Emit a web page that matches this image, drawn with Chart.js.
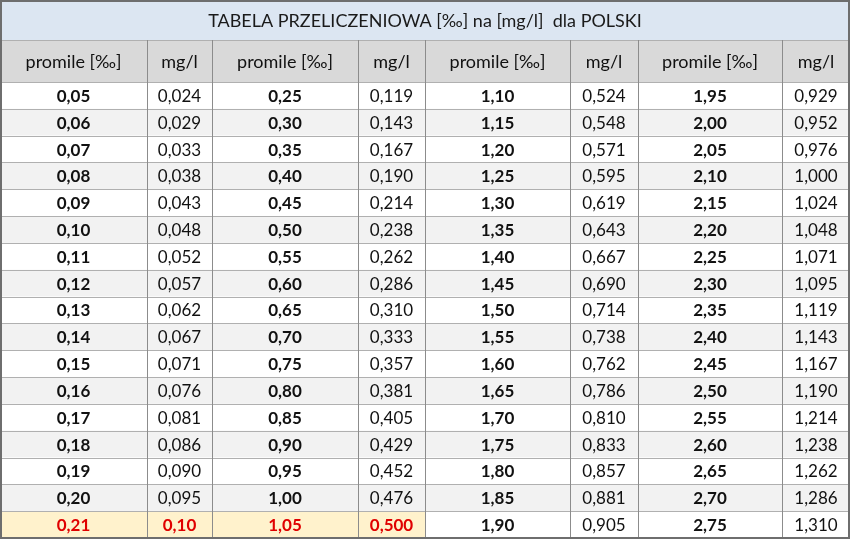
<!DOCTYPE html>
<html><head><meta charset="utf-8">
<script src="https://cdn.jsdelivr.net/npm/chart.js@4/dist/chart.umd.min.js"></script>
<style>html,body{margin:0;padding:0;background:#fff}#w{width:850px;height:540px}</style>
</head><body><div id="w"><canvas id="c"></canvas></div>
<script>
const title = "TABELA PRZELICZENIOWA [‰] na [mg/l]  dla POLSKI";
const headers = ["promile [‰]","mg/l","promile [‰]","mg/l","promile [‰]","mg/l","promile [‰]","mg/l"];
const promile1 = ["0,05","0,06","0,07","0,08","0,09","0,10","0,11","0,12","0,13","0,14","0,15","0,16","0,17","0,18","0,19","0,20","0,21"];
const mgl1 = ["0,024","0,029","0,033","0,038","0,043","0,048","0,052","0,057","0,062","0,067","0,071","0,076","0,081","0,086","0,090","0,095","0,10"];
const promile2 = ["0,25","0,30","0,35","0,40","0,45","0,50","0,55","0,60","0,65","0,70","0,75","0,80","0,85","0,90","0,95","1,00","1,05"];
const mgl2 = ["0,119","0,143","0,167","0,190","0,214","0,238","0,262","0,286","0,310","0,333","0,357","0,381","0,405","0,429","0,452","0,476","0,500"];
const promile3 = ["1,10","1,15","1,20","1,25","1,30","1,35","1,40","1,45","1,50","1,55","1,60","1,65","1,70","1,75","1,80","1,85","1,90"];
const mgl3 = ["0,524","0,548","0,571","0,595","0,619","0,643","0,667","0,690","0,714","0,738","0,762","0,786","0,810","0,833","0,857","0,881","0,905"];
const promile4 = ["1,95","2,00","2,05","2,10","2,15","2,20","2,25","2,30","2,35","2,40","2,45","2,50","2,55","2,60","2,65","2,70","2,75"];
const mgl4 = ["0,929","0,952","0,976","1,000","1,024","1,048","1,071","1,095","1,119","1,143","1,167","1,190","1,214","1,238","1,262","1,286","1,310"];
const columns = [promile1,mgl1,promile2,mgl2,promile3,mgl3,promile4,mgl4];
const colEdges = [0,147,212,358,425,570,638,782,850];
const rowEdges = [0,40,82];
for(let i=1;i<=17;i++) rowEdges.push(82+i*(538-82)/17);

const FONT = "Lato, 'Open Sans', sans-serif";
const tablePlugin = {
  id:'table',
  beforeDatasetsDraw(chart){
    const ctx=chart.ctx, xs=chart.scales.x, ys=chart.scales.y;
    const X=v=>xs.getPixelForValue(v), Y=v=>ys.getPixelForValue(v);
    const L=X(0),R=X(850);
    ctx.save();
    ctx.fillStyle="#dce6f2"; ctx.fillRect(L,Y(0),R-L,Y(40)-Y(0));
    ctx.fillStyle="#d9d9d9"; ctx.fillRect(L,Y(40),R-L,Y(82)-Y(40));
    for(let r=0;r<17;r++){
      const y0=Y(rowEdges[r+2]), y1=Y(rowEdges[r+3]);
      for(let c=0;c<8;c++){
        let bg = r%2===1 ? "#f2f2f2" : "#ffffff";
        if(r===16 && c<4) bg="#fff2cc";
        ctx.fillStyle=bg; ctx.fillRect(X(colEdges[c]),y0,X(colEdges[c+1])-X(colEdges[c]),y1-y0);
      }
    }
    ctx.strokeStyle="#b0b0b0"; ctx.lineWidth=1;
    for(let i=1;i<rowEdges.length-1;i++){
      ctx.beginPath(); ctx.moveTo(L,Math.round(Y(rowEdges[i]))+0.5); ctx.lineTo(R,Math.round(Y(rowEdges[i]))+0.5); ctx.stroke();
    }
    ctx.strokeStyle="#8c8c8c";
    for(let i=1;i<colEdges.length-1;i++){
      const x=Math.round(X(colEdges[i]))+0.5;
      ctx.beginPath(); ctx.moveTo(x,Y(40)); ctx.lineTo(x,Y(538)); ctx.stroke();
    }
    ctx.strokeStyle="#6e6e6e"; ctx.lineWidth=2;
    ctx.strokeRect(L+1,Y(0)+1,R-L-2,Y(538)-Y(0)-1);
    ctx.textAlign="center"; ctx.textBaseline="middle";
    ctx.fillStyle="#1a1a1a"; ctx.font="18px "+FONT;
    ctx.fillText(title,(L+R)/2,Y(21));
    for(let c=0;c<8;c++){
      const cx=(X(colEdges[c])+X(colEdges[c+1]))/2;
      ctx.fillStyle="#111"; ctx.font="18px "+FONT;
      ctx.fillText(headers[c],cx,Y(62));
      for(let r=0;r<17;r++){
        const cy=(Y(rowEdges[r+2])+Y(rowEdges[r+3]))/2+1;
        const red = r===16 && c<4;
        const bold = c%2===0 || red;
        ctx.font=(bold?"bold ":"")+"17px "+FONT;
        ctx.fillStyle = red ? "#e00000" : "#111";
        ctx.fillText(columns[c][r],cx,cy);
      }
    }
    ctx.restore();
  }
};
new Chart(document.getElementById('c'),{
  type:'scatter',
  data:{datasets:[{data:[],pointRadius:0}]},
  options:{
    responsive:true, maintainAspectRatio:false, animation:false,
    layout:{padding:0},
    plugins:{legend:{display:false},tooltip:{enabled:false}},
    scales:{
      x:{type:'linear',min:0,max:850,display:false},
      y:{type:'linear',min:0,max:540,reverse:true,display:false}
    }
  },
  plugins:[tablePlugin]
});
</script></body></html>
